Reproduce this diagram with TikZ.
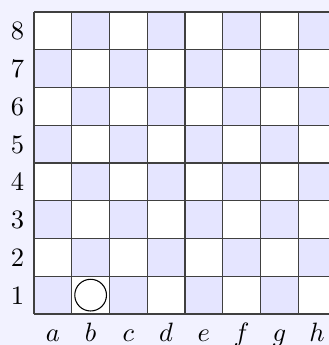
\documentclass[tikz,border=0pt]{standalone}
\begin{document}
\begin{tikzpicture}[x=0.5cm,y=0.5cm,
  darksq/.style={fill=blue!10},
  gridline/.style={draw=black!75,line width=0.4pt},
  ranklabel/.style={anchor=base,inner sep=0pt},
  filelabel/.style={anchor=base,inner sep=0pt},
  piece/.style={circle,draw=black,fill=white,line width=0.4pt,minimum size=0.42cm,inner sep=0pt}]
\fill[blue!5] (-0.9007,-0.821) rectangle (7.814,8.318);
\useasboundingbox (-0.9007,-0.821) rectangle (7.814,8.318);
\foreach \f in {1,...,8}{
  \foreach \r in {1,...,8}{
    \pgfmathtruncatemacro{\s}{mod(\f+\r,2)}
    \ifnum\s=0
      \fill[darksq] (\f-1,\r-1) rectangle (\f,\r);
    \else
      \fill[white] (\f-1,\r-1) rectangle (\f,\r);
    \fi
  }
}
\foreach \k in {0,...,8}{
  \draw[gridline] (\k,0) -- (\k,8);
  \draw[gridline] (0,\k) -- (8,\k);
}
\foreach \r in {1,...,8}{
  \node[ranklabel] (r\r) at (-0.437,\r-0.735) {\r};
}
\foreach \l [count=\i] in {a,b,c,d,e,f,g,h}{
  \node[filelabel] (f\l) at (\i-0.5,-0.74) {$\l$};
}
\node[piece] (p) at (1.5,0.5) {};
\end{tikzpicture}
\end{document}
